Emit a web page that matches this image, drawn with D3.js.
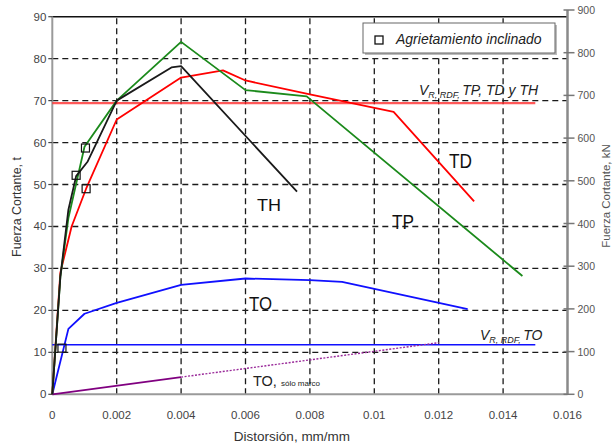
<!DOCTYPE html>
<html>
<head>
<meta charset="utf-8">
<script src="https://cdn.jsdelivr.net/npm/d3@7"></script>
<style>
  body { margin: 0; background: #fff; }
  svg { display: block; font-family: "Liberation Sans", Arial, sans-serif; }
</style>
</head>
<body>
<svg id="chart" width="613" height="448"></svg>
<script>
// curves: [distorsion, fuerza cortante t]
const TP = [[0,0],[0.00025,28],[0.0005,42],[0.001,59],[0.002,70],[0.004,84],[0.006,72.5],[0.0079,71],[0.0146,28.2]];
const TD = [[0,0],[0.00025,29],[0.0006,40],[0.00105,49],[0.002,65.5],[0.004,75.5],[0.0053,77.2],[0.006,74.8],[0.008,71.5],[0.0106,67.3],[0.0131,46]];
const TH = [[0,0],[0.00025,28],[0.0005,44],[0.00074,52],[0.0011,55.5],[0.002,70],[0.0037,77.9],[0.004,78.2],[0.0076,48.3]];
const TO = [[0,0],[0.0005,15.6],[0.001,19.2],[0.002,21.8],[0.004,26.1],[0.006,27.6],[0.008,27.2],[0.009,26.8],[0.0129,20.3]];
const marcoSolid = [[0,0],[0.004,4.1]];
const marcoDotted = [[0.004,4.1],[0.012,12.3]];
const vrTodos = [[0,69.4],[0.015,69.4]];
const vrTO = [[0,11.8],[0.015,11.8]];
const agrietamiento = [[0.00074,52.2],[0.00103,58.7],[0.00105,49],[0.0003,11]];

const xTicks = [0,0.002,0.004,0.006,0.008,0.01,0.012,0.014,0.016];
const yTicks = [0,10,20,30,40,50,60,70,80,90];
const kTicks = [0,100,200,300,400,500,600,700,800,900];

const svg = d3.select("#chart");
const x = d3.scaleLinear().domain([0, 0.016]).range([52.3, 567.5]);
const y = d3.scaleLinear().domain([0, 90]).range([394.3, 16.7]);
const yk = d3.scaleLinear().domain([0, 900]).range([394.3, 10]);

// grid
const grid = svg.append("g").attr("stroke", "#1a1a1a").attr("stroke-width", 1.3).attr("stroke-dasharray", "6,4");
xTicks.slice(1, -1).forEach(t => {
  grid.append("line").attr("x1", x(t)).attr("x2", x(t)).attr("y1", y(0)).attr("y2", y(90));
});
yTicks.slice(1, -1).forEach(t => {
  grid.append("line").attr("x1", x(0)).attr("x2", x(0.016)).attr("y1", y(t)).attr("y2", y(t));
});

// frame
svg.append("line").attr("x1", x(0)).attr("x2", x(0.016)).attr("y1", y(90)).attr("y2", y(90))
  .attr("stroke", "#111").attr("stroke-width", 1.5);
svg.append("line").attr("x1", x(0)).attr("x2", x(0)).attr("y1", y(90)).attr("y2", y(0))
  .attr("stroke", "#9a9a9a").attr("stroke-width", 2);
svg.append("line").attr("x1", x(0)).attr("x2", x(0.016)).attr("y1", y(0)).attr("y2", y(0))
  .attr("stroke", "#9a9a9a").attr("stroke-width", 2);
svg.append("line").attr("x1", x(0.016)).attr("x2", x(0.016)).attr("y1", yk(900)).attr("y2", yk(0))
  .attr("stroke", "#8a8a8a").attr("stroke-width", 2.5);

// left axis
const left = svg.append("g");
yTicks.forEach(t => {
  left.append("line").attr("x1", x(0) - 4).attr("x2", x(0)).attr("y1", y(t)).attr("y2", y(t))
    .attr("stroke", "#444").attr("stroke-width", 1.2);
  left.append("text").attr("x", x(0) - 6).attr("y", y(t) + 4).attr("text-anchor", "end")
    .attr("font-size", 11.5).attr("fill", "#444").text(t);
});
// right axis
const right = svg.append("g");
kTicks.forEach(t => {
  right.append("line").attr("x1", x(0.016) - 4).attr("x2", x(0.016) + 7).attr("y1", yk(t)).attr("y2", yk(t))
    .attr("stroke", "#777").attr("stroke-width", 1.5);
  right.append("text").attr("x", x(0.016) + 10).attr("y", yk(t) + 4)
    .attr("font-size", 10.5).attr("fill", "#555").text(t);
});
// bottom axis
xTicks.forEach(t => {
  svg.append("text").attr("x", x(t)).attr("y", 419).attr("text-anchor", "middle")
    .attr("font-size", 11.5).attr("fill", "#444").text(t);
});

// axis titles
svg.append("text").attr("x", 292).attr("y", 441).attr("text-anchor", "middle")
  .attr("font-size", 13.5).attr("fill", "#333").text("Distorsión, mm/mm");
svg.append("text").attr("transform", "translate(21,207) rotate(-90)").attr("text-anchor", "middle")
  .attr("font-size", 12.4).attr("fill", "#333").text("Fuerza Cortante, t");
svg.append("text").attr("transform", "translate(610,196) rotate(-90)").attr("text-anchor", "middle")
  .attr("font-size", 11.5).attr("fill", "#555").text("Fuerza Cortante, kN");

const line = d3.line().x(d => x(d[0])).y(d => y(d[1]));

// resistance lines
svg.append("path").datum(vrTodos).attr("d", line).attr("fill", "none")
  .attr("stroke", "#ff2020").attr("stroke-opacity", 0.75).attr("stroke-width", 2.2);
svg.append("path").datum(vrTO).attr("d", line).attr("fill", "none")
  .attr("stroke", "#1010ff").attr("stroke-width", 1.5);

// marco only
svg.append("path").datum(marcoSolid).attr("d", line).attr("fill", "none")
  .attr("stroke", "#800080").attr("stroke-width", 1.8);
svg.append("path").datum(marcoDotted).attr("d", line).attr("fill", "none")
  .attr("stroke", "#9a2a9a").attr("stroke-width", 1.4).attr("stroke-dasharray", "2,1.5");

// curves
const curves = [
  { data: TO, color: "#1010ff" },
  { data: TD, color: "#ff0000" },
  { data: TP, color: "#1b8a1b" },
  { data: TH, color: "#1a1a1a" }
];
curves.forEach(c => {
  svg.append("path").datum(c.data).attr("d", line).attr("fill", "none")
    .attr("stroke", c.color).attr("stroke-width", 1.8).attr("stroke-linejoin", "round");
});

// cracking markers
svg.selectAll("rect.ag").data(agrietamiento).enter().append("rect")
  .attr("class", "ag")
  .attr("x", d => x(d[0]) - 4).attr("y", d => y(d[1]) - 4)
  .attr("width", 8).attr("height", 8)
  .attr("fill", "none").attr("stroke", "#111").attr("stroke-width", 1.2);

// curve labels (narrow face)
const lab = (tx, ty, s, size, w) => svg.append("text").attr("x", tx).attr("y", ty)
  .attr("font-size", size).attr("fill", "#111")
  .attr("textLength", w).attr("lengthAdjust", "spacingAndGlyphs").text(s);
lab(257, 211, "TH", 17, 24);
lab(449, 168, "TD", 20, 23);
lab(392, 229, "TP", 20, 22);
lab(249, 310, "TO", 18.5, 23);

// TO, sólo marco
const tm = svg.append("text").attr("x", 253).attr("y", 386).attr("fill", "#222");
tm.append("tspan").attr("font-size", 14.5).text("TO, ");
tm.append("tspan").attr("font-size", 8).text("sólo marco");

// resistance labels
function vrLabel(tx, ty, rest) {
  const t = svg.append("text").attr("x", tx).attr("y", ty).attr("font-style", "italic").attr("fill", "#222");
  t.append("tspan").attr("font-size", 14).text("V");
  t.append("tspan").attr("font-size", 9).attr("dy", 3).text("R, ");
  t.append("tspan").attr("font-size", 9).text("RDF, ");
  t.append("tspan").attr("font-size", 14).attr("dy", -3).text(rest);
}
vrLabel(419, 95, "TP, TD y TH");
vrLabel(480, 340, "TO");

// legend
svg.append("rect").attr("x", 365).attr("y", 25).attr("width", 192).attr("height", 30)
  .attr("fill", "#bbb");
svg.append("rect").attr("x", 363).attr("y", 23).attr("width", 192).attr("height", 30)
  .attr("fill", "#fff").attr("stroke", "#666").attr("stroke-width", 1);
svg.append("rect").attr("x", 375).attr("y", 36).attr("width", 8).attr("height", 8)
  .attr("fill", "none").attr("stroke", "#111").attr("stroke-width", 1.3);
svg.append("text").attr("x", 396).attr("y", 44).attr("font-style", "italic")
  .attr("font-size", 14).attr("fill", "#222").text("Agrietamiento inclinado");
</script>
</body>
</html>
